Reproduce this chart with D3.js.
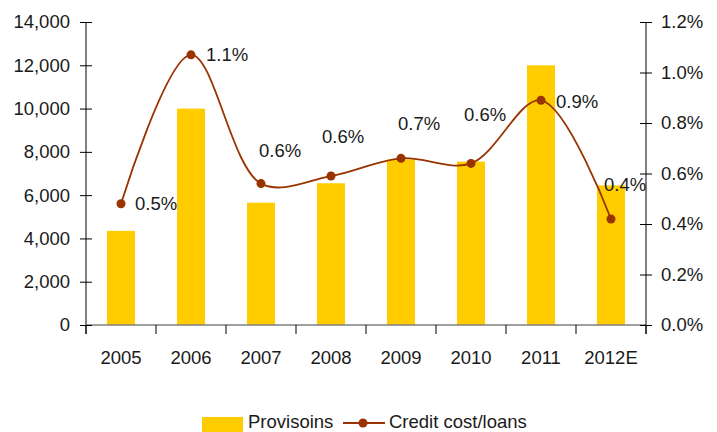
<!DOCTYPE html>
<html>
<head>
<meta charset="utf-8">
<script src="https://cdn.jsdelivr.net/npm/d3@7"></script>
<style>
  body { margin: 0; background: #fff; }
  text { font-family: "Liberation Sans", Arial, sans-serif; fill: #1a1a1a; }
</style>
</head>
<body>
<div id="chart"></div>
<script>
// chart data
var years = ["2005", "2006", "2007", "2008", "2009", "2010", "2011", "2012E"]
var provisions = [4350, 10000, 5650, 6550, 7650, 7550, 12000, 6450]
var creditCost = [0.48, 1.07, 0.56, 0.59, 0.66, 0.64, 0.89, 0.42]
var creditLabels = ["0.5%", "1.1%", "0.6%", "0.6%", "0.7%", "0.6%", "0.9%", "0.4%"]
var leftTicks = [0, 2000, 4000, 6000, 8000, 10000, 12000, 14000]
var rightTicks = [0, 0.2, 0.4, 0.6, 0.8, 1.0, 1.2]

// where each data label sits relative to its point (hand placed like in the original)
var labelDx = [14, 15, -2, -9, -3, -7, 15, -7]
var labelDy = [0, 0, -33, -40, -35, -49, 1, -34]

var width = 717, height = 432
var plotLeft = 86, plotRight = 646, plotTop = 22, plotBottom = 325
var fontSize = "18.5px"

var svg = d3.select("#chart").append("svg")
  .attr("width", width)
  .attr("height", height)

var x = d3.scaleBand()
  .domain(years)
  .range([plotLeft, plotRight])
  .paddingInner(0.6)
  .paddingOuter(0.3)

// band edges for the category ticks
var xEdge = d3.scaleBand().domain(years).range([plotLeft, plotRight])

var yLeft = d3.scaleLinear().domain([0, 14000]).range([plotBottom, plotTop])
var yRight = d3.scaleLinear().domain([0, 1.2]).range([plotBottom, plotTop])

// bars
svg.selectAll("rect.bar")
  .data(provisions)
  .enter()
  .append("rect")
  .attr("class", "bar")
  .attr("x", function(d, i) { return x(years[i]) })
  .attr("width", x.bandwidth())
  .attr("y", function(d) { return yLeft(d) })
  .attr("height", function(d) { return plotBottom - yLeft(d) })
  .attr("fill", "#FFCC00")

// x axis line and category ticks
svg.append("line")
  .attr("x1", plotLeft).attr("x2", plotRight)
  .attr("y1", plotBottom).attr("y2", plotBottom)
  .attr("stroke", "#808080").attr("stroke-width", 1.5)

svg.selectAll("line.xtick")
  .data(years.concat(["end"]))
  .enter()
  .append("line")
  .attr("class", "xtick")
  .attr("x1", function(d, i) { return i < years.length ? xEdge(d) : plotRight })
  .attr("x2", function(d, i) { return i < years.length ? xEdge(d) : plotRight })
  .attr("y1", plotBottom).attr("y2", plotBottom + 9)
  .attr("stroke", "#000").attr("stroke-width", 1)

svg.selectAll("text.xlabel")
  .data(years)
  .enter()
  .append("text")
  .attr("class", "xlabel")
  .attr("x", function(d) { return xEdge(d) + xEdge.bandwidth() / 2 })
  .attr("y", 364)
  .style("font-size", fontSize)
  .attr("text-anchor", "middle")
  .text(function(d) { return d })

// left axis
var leftAxis = d3.axisLeft(yLeft)
  .tickValues(leftTicks)
  .tickSizeInner(6)
  .tickSizeOuter(0)
  .tickPadding(10)
  .tickFormat(d3.format(","))

var gl = svg.append("g")
  .attr("transform", "translate(" + plotLeft + ",0)")
  .call(leftAxis)
gl.select(".domain").remove()
gl.selectAll(".tick line").attr("x1", -6).attr("x2", 6)
gl.selectAll("text").style("font-size", fontSize).style("font-family", "Liberation Sans, Arial, sans-serif").attr("fill", "#1a1a1a")
svg.append("line")
  .attr("x1", plotLeft).attr("x2", plotLeft)
  .attr("y1", plotTop).attr("y2", plotBottom + 9)
  .attr("stroke", "#000")

// right axis (values are already in percent)
var rightAxis = d3.axisRight(yRight)
  .tickValues(rightTicks)
  .tickSizeInner(6)
  .tickSizeOuter(0)
  .tickPadding(9)
  .tickFormat(function(d) { return d.toFixed(1) + "%" })

var gr = svg.append("g")
  .attr("transform", "translate(" + plotRight + ",0)")
  .call(rightAxis)
gr.select(".domain").remove()
gr.selectAll(".tick line").attr("x1", -6).attr("x2", 6)
gr.selectAll("text").style("font-size", fontSize).style("font-family", "Liberation Sans, Arial, sans-serif").attr("fill", "#1a1a1a")
svg.append("line")
  .attr("x1", plotRight).attr("x2", plotRight)
  .attr("y1", plotTop).attr("y2", plotBottom + 9)
  .attr("stroke", "#000")

// credit cost line
var cx = function(i) { return x(years[i]) + x.bandwidth() / 2 }

var line = d3.line()
  .x(function(d, i) { return cx(i) })
  .y(function(d) { return yRight(d) })
  .curve(d3.curveCatmullRom.alpha(0.5))

svg.append("path")
  .datum(creditCost)
  .attr("d", line)
  .attr("fill", "none")
  .attr("stroke", "#993300")
  .attr("stroke-width", 1.8)

svg.selectAll("circle.pt")
  .data(creditCost)
  .enter()
  .append("circle")
  .attr("class", "pt")
  .attr("cx", function(d, i) { return cx(i) })
  .attr("cy", function(d) { return yRight(d) })
  .attr("r", 4.5)
  .attr("fill", "#993300")

svg.selectAll("text.lbl")
  .data(creditLabels)
  .enter()
  .append("text")
  .attr("class", "lbl")
  .attr("x", function(d, i) { return cx(i) + labelDx[i] })
  .attr("y", function(d, i) { return yRight(creditCost[i]) + labelDy[i] })
  .attr("dy", "0.35em")
  .style("font-size", fontSize)
  .text(function(d) { return d })

// legend
var lg = svg.append("g")
lg.append("rect")
  .attr("x", 202).attr("y", 417)
  .attr("width", 41).attr("height", 15)
  .attr("fill", "#FFCC00")
lg.append("text")
  .attr("x", 248).attr("y", 428)
  .style("font-size", fontSize)
  .text("Provisoins")
lg.append("line")
  .attr("x1", 343).attr("x2", 385)
  .attr("y1", 423).attr("y2", 423)
  .attr("stroke", "#993300").attr("stroke-width", 1.8)
lg.append("circle")
  .attr("cx", 363).attr("cy", 423).attr("r", 4.5)
  .attr("fill", "#993300")
lg.append("text")
  .attr("x", 389).attr("y", 428)
  .style("font-size", fontSize)
  .text("Credit cost/loans")
</script>
</body>
</html>
